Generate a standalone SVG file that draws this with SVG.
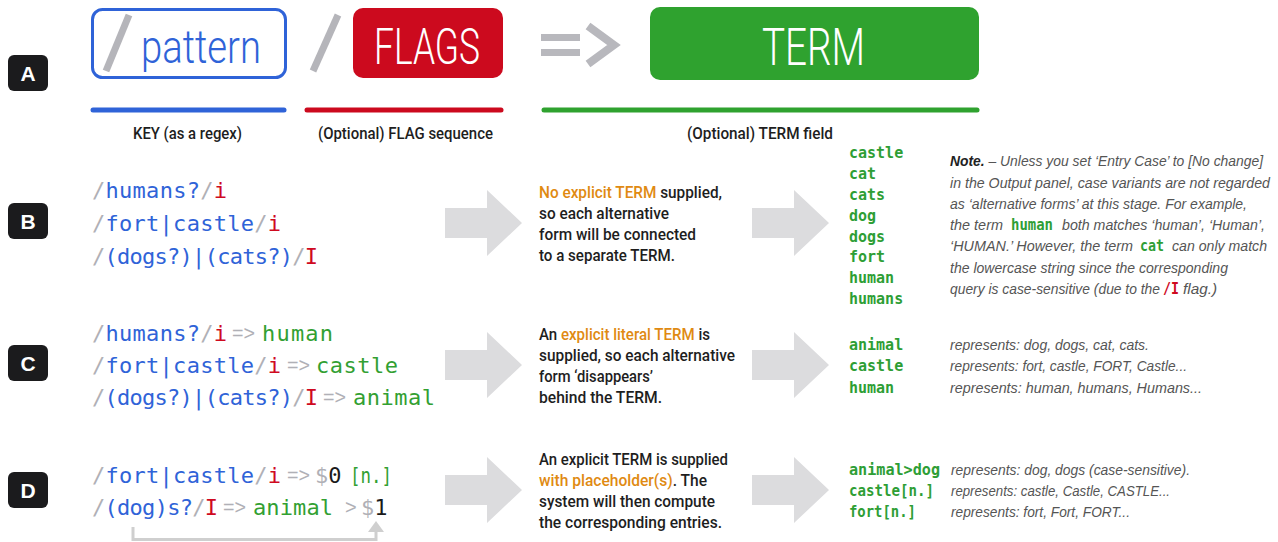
<svg xmlns="http://www.w3.org/2000/svg" width="1278" height="542" viewBox="0 0 1278 542">
<defs>
<style>
.badge{fill:#1b1b1d}
.bl{font-family:"Liberation Sans",Arial,sans-serif;font-weight:bold;font-size:21px;fill:#fff;text-anchor:middle}
.thin{font-family:Roboto,"Open Sans",sans-serif;font-weight:300}
.lab{font-family:Roboto,"Liberation Sans",sans-serif;font-weight:500;font-size:16px;fill:#1e1e1e}
.code{font-family:"DejaVu Sans Mono","Liberation Mono",monospace;font-size:22px}
.k{fill:#2f63d8}
.g{fill:#b0b0b6}
.r{fill:#cf0a1f}
.gr{fill:#32a032}
.blk{fill:#1a1a1a}
.eq{font-family:"Liberation Sans",sans-serif;font-size:20px;fill:#b0b0b6}
.desc{font-family:Roboto,"Liberation Sans",sans-serif;font-weight:500;font-size:16px;fill:#1e1e1e}
.or{fill:#e08a12}
.list{font-family:"DejaVu Sans Mono",monospace;font-weight:bold;font-style:normal;font-size:15px;fill:#2e9e35}
.note{font-family:"Liberation Sans",sans-serif;font-style:italic;font-size:15px;fill:#555}
.arrow{fill:#dcdcde}
.sl{stroke:#b5b5ba;stroke-width:7;fill:none}
.ul{stroke-width:5;stroke-linecap:round}
</style>
<path id="arr" d="M0,-15H42V-33L77,0L42,33V15H0Z"/>
</defs>
<rect width="1278" height="542" fill="#fff"/>

<g id="header">
  <g id="pattern-box">
    <rect x="92.5" y="9.5" width="193" height="68" rx="10" fill="#fff" stroke="#2f63d8" stroke-width="3"/>
    <line class="sl" x1="129" y1="15" x2="106" y2="71"/>
    <text class="thin" x="141" y="63" font-size="46" fill="#2f63d8" textLength="120" lengthAdjust="spacingAndGlyphs">pattern</text>
  </g>
  <line class="sl" x1="338" y1="15" x2="313" y2="71"/>
  <g id="flags-box">
    <rect x="353" y="8" width="150" height="70" rx="10" fill="#cc0a1e"/>
    <text class="thin" x="374" y="64" font-size="50" fill="#fff" textLength="106" lengthAdjust="spacingAndGlyphs">FLAGS</text>
  </g>
  <g id="implies" fill="#b8b8bd">
    <rect x="541" y="34" width="39" height="7"/>
    <rect x="541" y="49" width="39" height="7"/>
    <polyline points="588,26 614,45 588,64" fill="none" stroke="#b8b8bd" stroke-width="8"/>
  </g>
  <g id="term-box">
    <rect x="650" y="7" width="329" height="73" rx="10" fill="#2fa22f"/>
    <text class="thin" x="762" y="65" font-size="51" fill="#fff" textLength="103" lengthAdjust="spacingAndGlyphs">TERM</text>
  </g>
  <line class="ul" x1="93" y1="110" x2="284" y2="110" stroke="#2f63d8"/>
  <line class="ul" x1="307" y1="110" x2="501" y2="110" stroke="#cc0a1e"/>
  <line class="ul" x1="544" y1="110" x2="977" y2="110" stroke="#2fa22f"/>
  <text class="lab" x="133" y="139" textLength="109" lengthAdjust="spacingAndGlyphs">KEY (as a regex)</text>
  <text class="lab" x="318" y="139" textLength="175" lengthAdjust="spacingAndGlyphs">(Optional) FLAG sequence</text>
  <text class="lab" x="687" y="139" textLength="146" lengthAdjust="spacingAndGlyphs">(Optional) TERM field</text>
</g>

<g id="badge-A"><rect class="badge" x="8" y="55" width="40" height="36" rx="6"/><text class="bl" x="28" y="81">A</text></g>
<g id="badge-B"><rect class="badge" x="8" y="203" width="40" height="36" rx="6"/><text class="bl" x="28" y="229">B</text></g>
<g id="badge-C"><rect class="badge" x="8" y="345" width="40" height="36" rx="6"/><text class="bl" x="28" y="371">C</text></g>
<g id="badge-D"><rect class="badge" x="8" y="472" width="40" height="36" rx="6"/><text class="bl" x="28" y="498">D</text></g>

<g id="code-B" class="code">
  <text x="92" y="198" textLength="135" lengthAdjust="spacing"><tspan class="g">/</tspan><tspan class="k">humans?</tspan><tspan class="g">/</tspan><tspan class="r">i</tspan></text>
  <text x="92" y="231" textLength="189" lengthAdjust="spacing"><tspan class="g">/</tspan><tspan class="k">fort|castle</tspan><tspan class="g">/</tspan><tspan class="r">i</tspan></text>
  <text x="92" y="264" textLength="226" lengthAdjust="spacing"><tspan class="g">/</tspan><tspan class="k">(dogs?)|(cats?)</tspan><tspan class="g">/</tspan><tspan class="r">I</tspan></text>
</g>

<g id="code-C">
  <text class="code" x="92" y="341" textLength="135" lengthAdjust="spacing"><tspan class="g">/</tspan><tspan class="k">humans?</tspan><tspan class="g">/</tspan><tspan class="r">i</tspan></text>
  <text class="eq" x="232" y="340" textLength="23" lengthAdjust="spacingAndGlyphs">=&gt;</text>
  <text class="code gr" x="262" y="341" textLength="71" lengthAdjust="spacing">human</text>
  <text class="code" x="92" y="373" textLength="189" lengthAdjust="spacing"><tspan class="g">/</tspan><tspan class="k">fort|castle</tspan><tspan class="g">/</tspan><tspan class="r">i</tspan></text>
  <text class="eq" x="287" y="372" textLength="23" lengthAdjust="spacingAndGlyphs">=&gt;</text>
  <text class="code gr" x="316" y="373" textLength="82" lengthAdjust="spacing">castle</text>
  <text class="code" x="92" y="405" textLength="226" lengthAdjust="spacing"><tspan class="g">/</tspan><tspan class="k">(dogs?)|(cats?)</tspan><tspan class="g">/</tspan><tspan class="r">I</tspan></text>
  <text class="eq" x="323" y="404" textLength="23" lengthAdjust="spacingAndGlyphs">=&gt;</text>
  <text class="code gr" x="353" y="405" textLength="82" lengthAdjust="spacing">animal</text>
</g>

<g id="code-D">
  <text class="code" x="92" y="483" textLength="189" lengthAdjust="spacing"><tspan class="g">/</tspan><tspan class="k">fort|castle</tspan><tspan class="g">/</tspan><tspan class="r">i</tspan></text>
  <text class="eq" x="287" y="482" textLength="23" lengthAdjust="spacingAndGlyphs">=&gt;</text>
  <text class="code" x="315" y="483"><tspan class="g">$</tspan><tspan class="blk">0</tspan></text>
  <text class="code gr" x="350" y="483" textLength="42" lengthAdjust="spacingAndGlyphs">[n.]</text>
  <text class="code" x="92" y="515" textLength="126" lengthAdjust="spacing"><tspan class="g">/</tspan><tspan class="k">(dog)s?</tspan><tspan class="g">/</tspan><tspan class="r">I</tspan></text>
  <text class="eq" x="223" y="514" textLength="23" lengthAdjust="spacingAndGlyphs">=&gt;</text>
  <text class="code gr" x="253" y="515" textLength="80" lengthAdjust="spacing">animal</text>
  <text class="eq" x="345" y="514">&gt;</text>
  <text class="code" x="361" y="515"><tspan class="g">$</tspan><tspan class="blk">1</tspan></text>
</g>

<g id="connectors">
  <use href="#arr" class="arrow" x="445" y="223"/>
  <use href="#arr" class="arrow" x="752" y="223"/>
  <use href="#arr" class="arrow" x="445" y="365"/>
  <use href="#arr" class="arrow" x="752" y="365"/>
  <use href="#arr" class="arrow" x="445" y="490"/>
  <use href="#arr" class="arrow" x="752" y="490"/>
  <path d="M133,527V539.5H376V531" fill="none" stroke="#cfcfcf" stroke-width="3"/>
  <polygon points="368,532 384,532 376,521" fill="#cfcfcf"/>
</g>

<g id="desc-B" class="desc">
  <text x="539" y="198" textLength="183" lengthAdjust="spacingAndGlyphs"><tspan class="or">No explicit TERM</tspan> supplied,</text>
  <text x="539" y="219" textLength="130" lengthAdjust="spacingAndGlyphs">so each alternative</text>
  <text x="539" y="240" textLength="157" lengthAdjust="spacingAndGlyphs">form will be connected</text>
  <text x="539" y="261" textLength="136" lengthAdjust="spacingAndGlyphs">to a separate TERM.</text>
</g>
<g id="desc-C" class="desc">
  <text x="539" y="340" textLength="171" lengthAdjust="spacingAndGlyphs">An <tspan class="or">explicit literal TERM</tspan> is</text>
  <text x="539" y="361" textLength="196" lengthAdjust="spacingAndGlyphs">supplied, so each alternative</text>
  <text x="539" y="382" textLength="114" lengthAdjust="spacingAndGlyphs">form ‘disappears’</text>
  <text x="539" y="403" textLength="123" lengthAdjust="spacingAndGlyphs">behind the TERM.</text>
</g>
<g id="desc-D" class="desc">
  <text x="539" y="465" textLength="189" lengthAdjust="spacingAndGlyphs">An explicit TERM is supplied</text>
  <text x="539" y="486" textLength="168" lengthAdjust="spacingAndGlyphs"><tspan class="or">with placeholder(s)</tspan>. The</text>
  <text x="539" y="507" textLength="176" lengthAdjust="spacingAndGlyphs">system will then compute</text>
  <text x="539" y="528" textLength="183" lengthAdjust="spacingAndGlyphs">the corresponding entries.</text>
</g>

<g id="terms-B" class="list">
  <text x="849" y="158">castle</text>
  <text x="849" y="179">cat</text>
  <text x="849" y="200">cats</text>
  <text x="849" y="221">dog</text>
  <text x="849" y="242">dogs</text>
  <text x="849" y="262">fort</text>
  <text x="849" y="283">human</text>
  <text x="849" y="304">humans</text>
</g>
<g id="terms-C" class="list">
  <text x="849" y="350">animal</text>
  <text x="849" y="371">castle</text>
  <text x="849" y="393">human</text>
</g>
<g id="terms-D" class="list">
  <text x="849" y="475" textLength="91" lengthAdjust="spacingAndGlyphs">animal&gt;dog</text>
  <text x="849" y="496" textLength="85" lengthAdjust="spacingAndGlyphs">castle[n.]</text>
  <text x="849" y="517" textLength="67" lengthAdjust="spacingAndGlyphs">fort[n.]</text>
</g>

<g id="note">
  <text class="note" x="950" y="166" textLength="313" lengthAdjust="spacingAndGlyphs"><tspan font-weight="bold" fill="#222">Note.</tspan> – Unless you set ‘Entry Case’ to [No change]</text>
  <text class="note" x="950" y="188" textLength="320" lengthAdjust="spacingAndGlyphs">in the Output panel, case variants are not regarded</text>
  <text class="note" x="950" y="209" textLength="297" lengthAdjust="spacingAndGlyphs">as ‘alternative forms’ at this stage. For example,</text>
  <text class="note" x="950" y="230" textLength="53" lengthAdjust="spacingAndGlyphs">the term</text>
  <text class="list" x="1011" y="230" textLength="42" lengthAdjust="spacingAndGlyphs">human</text>
  <text class="note" x="1062" y="230" textLength="203" lengthAdjust="spacingAndGlyphs">both matches ‘human’, ‘Human’,</text>
  <text class="note" x="950" y="251" textLength="183" lengthAdjust="spacingAndGlyphs">‘HUMAN.’ However, the term</text>
  <text class="list" x="1140" y="251" textLength="24" lengthAdjust="spacingAndGlyphs">cat</text>
  <text class="note" x="1172" y="251" textLength="95" lengthAdjust="spacingAndGlyphs">can only match</text>
  <text class="note" x="950" y="273" textLength="278" lengthAdjust="spacingAndGlyphs">the lowercase string since the corresponding</text>
  <text class="note" x="950" y="294" textLength="210" lengthAdjust="spacingAndGlyphs">query is case-sensitive (due to the</text>
  <text class="list" x="1163" y="294" textLength="16" lengthAdjust="spacingAndGlyphs" style="fill:#cf0a1f">/I</text>
  <text class="note" x="1183" y="294" textLength="34" lengthAdjust="spacingAndGlyphs">flag.)</text>
</g>

<g id="represents-C" class="note">
  <text x="950" y="350" textLength="199" lengthAdjust="spacingAndGlyphs">represents: dog, dogs, cat, cats.</text>
  <text x="950" y="371" textLength="237" lengthAdjust="spacingAndGlyphs">represents: fort, castle, FORT, Castle...</text>
  <text x="950" y="393" textLength="252" lengthAdjust="spacingAndGlyphs">represents: human, humans, Humans...</text>
</g>
<g id="represents-D" class="note">
  <text x="951" y="475" textLength="239" lengthAdjust="spacingAndGlyphs">represents: dog, dogs (case-sensitive).</text>
  <text x="951" y="496" textLength="219" lengthAdjust="spacingAndGlyphs">represents: castle, Castle, CASTLE...</text>
  <text x="951" y="517" textLength="179" lengthAdjust="spacingAndGlyphs">represents: fort, Fort, FORT...</text>
</g>
</svg>
